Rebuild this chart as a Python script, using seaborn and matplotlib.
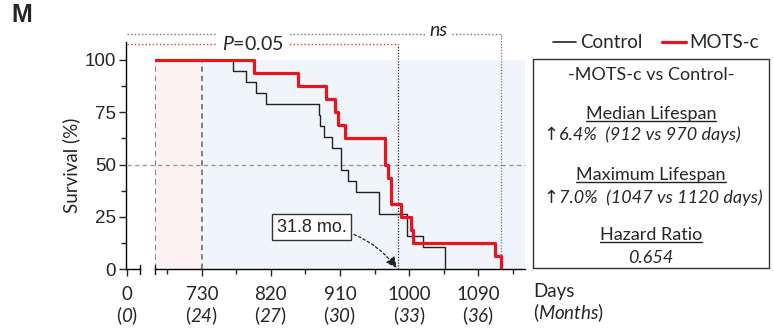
import numpy as np
import pandas as pd
import matplotlib
matplotlib.use("Agg")
import matplotlib.pyplot as plt
import seaborn as sns
from matplotlib.patches import Rectangle
from matplotlib.lines import Line2D

# ---------------- data ----------------
start_day = 669          # start of treatment window (22 months)
treat_day = 730          # 24 months
control_deaths = [771, 787, 800, 813, 882, 884, 889, 900, 911, 911, 921, 931,
                  961, 961, 997, 997, 1018, 1047, 1047]
motsc_deaths = [798, 855, 892, 903, 908, 917, 969, 969, 972, 976, 976, 989,
                1003, 1005, 1112, 1120]
median_marker_day = 985  # 31.8 mo.
max_marker_day = 1120
xtick_days = [730, 820, 910, 1000, 1090]
xtick_months = [24, 27, 30, 33, 36]
yticks = [0, 25, 50, 75, 100]

# ---------------- style ----------------
sns.set_theme(style="white")
MAIN = ["Lato", "DejaVu Sans"]
plt.rcParams["font.family"] = MAIN
plt.rcParams["mathtext.fontset"] = "custom"
plt.rcParams["mathtext.rm"] = "Lato"
plt.rcParams["mathtext.it"] = "Lato:italic"
plt.rcParams["mathtext.sf"] = "Lato:italic"
plt.rcParams["mathtext.bf"] = "Lato:bold"

W, H = 774, 330
fig = plt.figure(figsize=(W / 100, H / 100), dpi=100)


def fx(px):
    return px / W


def fy(py):
    return 1 - py / H


RED = "#e8141e"

# axes geometry (pixels)
y_top, y_bot = 42, 269
ymax = 100 * (y_bot - y_top) / (y_bot - 60)
axL = fig.add_axes([fx(125.7), fy(y_bot), fx(140) - fx(125.7), (y_bot - y_top) / H])
axR = fig.add_axes([fx(155), fy(y_bot), fx(525) - fx(155), (y_bot - y_top) / H])
for ax in (axL, axR):
    ax.set_facecolor("none")
    ax.set_ylim(0, ymax)
    ax.spines["top"].set_visible(False)
    ax.spines["right"].set_visible(False)
    ax.spines["bottom"].set_color("black")
    ax.spines["left"].set_color("black")
    ax.spines["bottom"].set_linewidth(1.0)
    ax.spines["left"].set_linewidth(1.0)

axL.set_xlim(-1, 15)
axR.set_xlim(start_day, 1151)
axR.spines["left"].set_visible(False)

# ---- left axis ----
axL.set_yticks(yticks)
axL.set_yticks(np.arange(12.5, 100, 25), minor=True)
axL.set_yticklabels([str(v) for v in yticks], family=["Liberation Sans"], fontsize=13.5)
axL.tick_params(axis="y", which="major", direction="out", length=5, width=1, pad=2, left=True)
axL.tick_params(axis="y", which="minor", direction="out", length=3.5, width=1, left=True)
axL.set_xticks([0])
axL.set_xticklabels(["0\n($\\mathsf{0}$)"], fontsize=13.5, linespacing=1.05)
axL.tick_params(axis="x", which="major", direction="out", length=5, width=1, pad=7.5, bottom=True)
axL.set_ylabel("Survival (%)", fontsize=13.5)
axL.yaxis.set_label_coords(-(125.7 - 80) / 14.3, (y_bot - 165) / (y_bot - y_top))
# break ticks
tk = 4.5 / (y_bot - y_top)
axL.plot([1, 1], [-tk, tk], transform=axL.transAxes, color="black", lw=1, clip_on=False)
axR.plot([0, 0], [-tk, tk], transform=axR.transAxes, color="black", lw=1, clip_on=False)

# ---- right axis ticks ----
axR.set_yticks([])
axR.set_xticks(xtick_days)
axR.set_xticklabels([f"{d}\n($\\mathsf{{{m}}}$)" for d, m in zip(xtick_days, xtick_months)],
                    fontsize=13.5, linespacing=1.05)
axR.set_xticks([d - 45 for d in xtick_days] + [xtick_days[-1] + 45], minor=True)
axR.tick_params(axis="x", which="major", direction="out", length=5, width=1, pad=7.5, bottom=True)
axR.tick_params(axis="x", which="minor", direction="out", length=3.5, width=1, bottom=True)

# ---- shading & reference lines ----
axR.fill_between([start_day, treat_day], 0, 100, color="#fdf1f3", lw=0, zorder=0)
axR.fill_between([treat_day, 1151], 0, 100, color="#f0f5fb", lw=0, zorder=0)
for d in (start_day, treat_day):
    axR.plot([d, d], [0, 100], color="#777777", ls=(0, (3, 2.2)), lw=1.3, zorder=1)

# horizontal 50% line across both parts
x_left_in_R = axR.transData.inverted().transform(axL.transData.transform((0, 0)))[0]
axR.plot([x_left_in_R, 1151], [50, 50], color="#999999", ls=(0, (3, 2.5)), lw=1.0,
         clip_on=False, zorder=1)


# ---- survival curves ----
def km(deaths, name):
    n = len(deaths)
    times = sorted(set(deaths))
    rows = [(start_day, 100.0, name)]
    dead = 0
    for t in times:
        dead += deaths.count(t)
        rows.append((t, 100.0 * (n - dead) / n, name))
    return pd.DataFrame(rows, columns=["day", "surv", "group"])


df_c = km(control_deaths, "Control")
df_m = km(motsc_deaths, "MOTS-c")
sns.lineplot(data=df_c, x="day", y="surv", ax=axR, drawstyle="steps-post", color="#222222",
             lw=1.0, estimator=None, legend=False, zorder=4)
sns.lineplot(data=df_m, x="day", y="surv", ax=axR, drawstyle="steps-post", color=RED,
             lw=2.3, estimator=None, legend=False, zorder=5)
axR.set_xlabel("")
axR.set_ylabel("")
axL.set_xlabel("")

# ---- brackets ----
yP = 100 * (y_bot - 43.7) / (y_bot - 60)
yN = 100 * (y_bot - 33.7) / (y_bot - 60)
axR.plot([x_left_in_R, median_marker_day], [yP, yP], color="#ff3030", ls=(0, (1, 1.6)), lw=1.0,
         clip_on=False)
axR.plot([median_marker_day, median_marker_day], [0, yP], color="#222222", ls=(0, (1, 1.3)),
         lw=0.9, clip_on=False, zorder=3)
axR.plot([x_left_in_R, max_marker_day], [yN, yN], color="#777777", ls=(0, (1, 1.6)), lw=1.0,
         clip_on=False)
axR.plot([max_marker_day, max_marker_day], [0, yN], color="#777777", ls=(0, (1, 1.3)),
         lw=0.9, clip_on=False, zorder=3)
fig.text(fx(253), fy(44), "$\\mathit{P}$=0.05", fontsize=14, ha="center", va="center",
         bbox=dict(fc="white", ec="none", pad=4))
fig.text(fx(438), fy(31), "ns", fontsize=14, style="italic", ha="center", va="center",
         bbox=dict(fc="white", ec="none", pad=3))

# ---- 31.8 mo annotation ----
axR.annotate("31.8 mo.", xy=(median_marker_day - 1, 0.5), xycoords="data",
             xytext=(fx(311.5), fy(227)), textcoords="figure fraction",
             ha="center", va="center", fontsize=13, family=["Liberation Sans"],
             bbox=dict(boxstyle="square,pad=0.25", fc="white", ec="#333333", lw=1),
             arrowprops=dict(arrowstyle="-|>,head_length=0.5,head_width=0.25", color="#222222",
                             ls=(0, (2, 2)), lw=0.9, connectionstyle="arc3,rad=-0.25",
                             shrinkA=2, shrinkB=0),
             zorder=6)

# ---- bottom-right axis caption ----
fig.text(fx(533), fy(283), "Days\n($\\mathit{Months}$)", fontsize=13.5, ha="left", va="top",
         linespacing=1.05)

# ---- legend ----
fig.add_artist(Line2D([fx(553), fx(576)], [fy(42), fy(42)], color="#222222", lw=1.2))
fig.text(fx(580), fy(42), "Control", fontsize=13.5, va="center", ha="left")
fig.add_artist(Line2D([fx(662), fx(686)], [fy(42), fy(42)], color=RED, lw=2.3))
fig.text(fx(689), fy(42), "MOTS-c", fontsize=13.5, va="center", ha="left")

# ---- stats box ----
fig.add_artist(Rectangle((fx(533), fy(268)), fx(769) - fx(533), fy(59) - fy(268),
                         transform=fig.transFigure, fill=False, ec="#333333", lw=1))
cx = fx(651)
fig.text(cx, fy(75), "-MOTS-c vs Control-", fontsize=13, ha="center", va="center")
under = []
under.append(fig.text(cx, fy(114), "Median Lifespan", fontsize=13, ha="center", va="center"))
fig.text(fx(551), fy(135), "\u2191", fontsize=13, ha="center", va="center",
         family=["DejaVu Sans"])
fig.text(fx(559), fy(135), "6.4%  (912 vs 970 days)", fontsize=13, style="italic",
         ha="left", va="center")
under.append(fig.text(cx, fy(175), "Maximum Lifespan", fontsize=13, ha="center", va="center"))
fig.text(fx(551), fy(198), "\u2191", fontsize=13, ha="center", va="center",
         family=["DejaVu Sans"])
fig.text(fx(559), fy(198), "7.0%  (1047 vs 1120 days)", fontsize=13, style="italic",
         ha="left", va="center")
under.append(fig.text(cx, fy(235), "Hazard Ratio", fontsize=13, ha="center", va="center"))
fig.text(cx, fy(258), "0.654", fontsize=13, style="italic", ha="center", va="center")

# panel letter
fig.text(fx(11), fy(15), "M", fontsize=18, fontweight="bold", family=["Liberation Sans"],
         ha="left", va="center")

# underlines
fig.canvas.draw()
r = fig.canvas.get_renderer()
for t in under:
    bb = t.get_window_extent(r)
    yb = bb.y0 + 1.5
    fig.add_artist(Line2D([bb.x0 / W, bb.x1 / W], [yb / H, yb / H], color="#222222", lw=1.0))

fig.savefig("out.png", dpi=100)
